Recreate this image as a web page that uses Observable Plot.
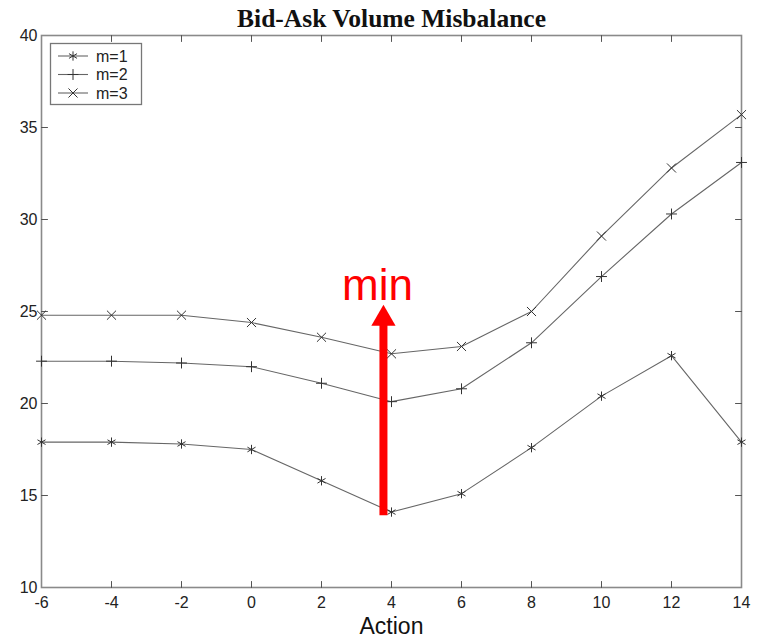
<!DOCTYPE html>
<html>
<head>
<meta charset="utf-8">
<script src="https://cdn.jsdelivr.net/npm/d3@7"></script>
<script src="https://cdn.jsdelivr.net/npm/@observablehq/plot@0.6"></script>
<style>
  html, body { margin: 0; padding: 0; background: #fff; }
  #wrap { position: relative; width: 762px; height: 639px; }
  #legend { position: absolute; left: 0; top: 0; }
</style>
</head>
<body>
<div id="wrap"></div>
<script>
// ---- Data ----
const actions = [-6, -4, -2, 0, 2, 4, 6, 8, 10, 12, 14];
const m1 = [17.9, 17.9, 17.8, 17.5, 15.8, 14.1, 15.1, 17.6, 20.4, 22.6, 17.9];
const m2 = [22.3, 22.3, 22.2, 22.0, 21.1, 20.1, 20.8, 23.3, 26.9, 30.3, 33.1];
const m3 = [24.8, 24.8, 24.8, 24.4, 23.6, 22.7, 23.1, 25.0, 29.1, 32.8, 35.7];
const seriesNames = ["m=1", "m=2", "m=3"];
const seriesSymbols = ["asterisk", "plus", "times"];
const xTicks = [-6, -4, -2, 0, 2, 4, 6, 8, 10, 12, 14];
const yTicks = [10, 15, 20, 25, 30, 35, 40];
const titleText = "Bid-Ask Volume Misbalance";
const xLabel = "Action";
// annotation: red arrow pointing up to the minimum region
const arrowX = 3.77;
const arrowFrom = 13.9;
const arrowTo = 24.6;     // end of shaft (head centroid)
const minLabel = "min";
const minLabelX = 3.6;
const minLabelY = 25.6;

const toRows = (vals, name) => actions.map((a, i) => ({x: a, y: vals[i], s: name}));
const series = [m1, m2, m3].map((v, i) => toRows(v, seriesNames[i]));

const lineColor = "#666";
const markColor = "#333";
const symbolR = [4.4, 3.6, 4.2];

const tickShape = {draw(ctx, l) { ctx.moveTo(0, 0); ctx.lineTo(0, -l); }};
const inTick = (data, opts) => Plot.vector(data, {length: 6, anchor: "start", shape: tickShape, stroke: "#555", strokeWidth: 1, ...opts});

const marks = [
  Plot.frame({stroke: "#8a8a8a", strokeWidth: 1.6}),
  inTick(xTicks.slice(1, -1), {x: d => d, frameAnchor: "bottom", rotate: 0}),
  inTick(xTicks.slice(1, -1), {x: d => d, frameAnchor: "top", rotate: 180}),
  inTick(yTicks.slice(1, -1), {y: d => d, frameAnchor: "left", rotate: 90}),
  inTick(yTicks.slice(1, -1), {y: d => d, frameAnchor: "right", rotate: -90}),
  Plot.axisX(xTicks, {anchor: "bottom", tickSize: 0, tickPadding: 9, fontSize: 16, fill: "#222", label: null, tickFormat: d => String(d)}),
  Plot.axisY(yTicks, {anchor: "left", tickSize: 0, tickPadding: 4, fontSize: 16, fill: "#222", label: null}),
];
series.forEach((rows, i) => {
  marks.push(Plot.line(rows, {x: "x", y: "y", stroke: lineColor, strokeWidth: 1.1}));
  marks.push(Plot.dot(rows, {x: "x", y: "y", symbol: seriesSymbols[i], r: symbolR[i], stroke: markColor, strokeWidth: 1, fill: "none"}));
});
marks.push(
  Plot.ruleX([arrowX], {y1: arrowFrom, y2: arrowTo, stroke: "#ff0000", strokeWidth: 8}),
  Plot.dot([{x: arrowX, y: arrowTo}], {x: "x", y: "y", symbol: "triangle", r: 9, fill: "#ff0000", stroke: "none"}),
  Plot.text([minLabel], {x: minLabelX, y: minLabelY, text: d => d, fill: "#ff0000", fontSize: 44, fontFamily: "Liberation Sans, Arial, sans-serif", lineAnchor: "bottom", textAnchor: "middle"}),
  Plot.text([titleText], {frameAnchor: "top", dy: -9, text: d => d, fontSize: 25.5, fontWeight: "bold", fontFamily: "Liberation Serif, Times New Roman, serif", fill: "#111", lineAnchor: "bottom"}),
  Plot.text([xLabel], {frameAnchor: "bottom", dy: 46, text: d => d, fontSize: 23, fontFamily: "Liberation Sans, Arial, sans-serif", fill: "#111", lineAnchor: "bottom"})
);

const chart = Plot.plot({
  width: 762,
  height: 639,
  marginLeft: 41,
  marginRight: 21,
  marginTop: 35,
  marginBottom: 52,
  style: {fontFamily: "Liberation Sans, Arial, sans-serif", background: "#fff", overflow: "visible"},
  x: {domain: [-6, 14]},
  y: {domain: [10, 40]},
  marks
});
document.getElementById("wrap").appendChild(chart);

// ---- Legend (overlay) ----
const leg = d3.select("#wrap").append("svg").attr("id", "legend").attr("width", 160).attr("height", 120);
leg.append("rect").attr("x", 50.5).attr("y", 43.5).attr("width", 91).attr("height", 61)
  .attr("fill", "#fff").attr("stroke", "#777").attr("stroke-width", 1.3);
const symMap = {asterisk: d3.symbolAsterisk, plus: d3.symbolPlus, times: d3.symbolTimes};
seriesNames.forEach((name, i) => {
  const cy = 56 + i * 18.5;
  const g = leg.append("g");
  g.append("line").attr("x1", 58).attr("x2", 88).attr("y1", cy).attr("y2", cy).attr("stroke", lineColor).attr("stroke-width", 1.1);
  g.append("path").attr("transform", `translate(73,${cy})`)
    .attr("d", d3.symbol(symMap[seriesSymbols[i]], Math.PI * symbolR[i] * symbolR[i])())
    .attr("fill", "none").attr("stroke", markColor).attr("stroke-width", 1);
  g.append("text").attr("x", 96).attr("y", cy).attr("dy", "0.35em")
    .attr("font-family", "Liberation Sans, Arial, sans-serif").attr("font-size", 16).attr("fill", "#222").text(name);
});
</script>
</body>
</html>
